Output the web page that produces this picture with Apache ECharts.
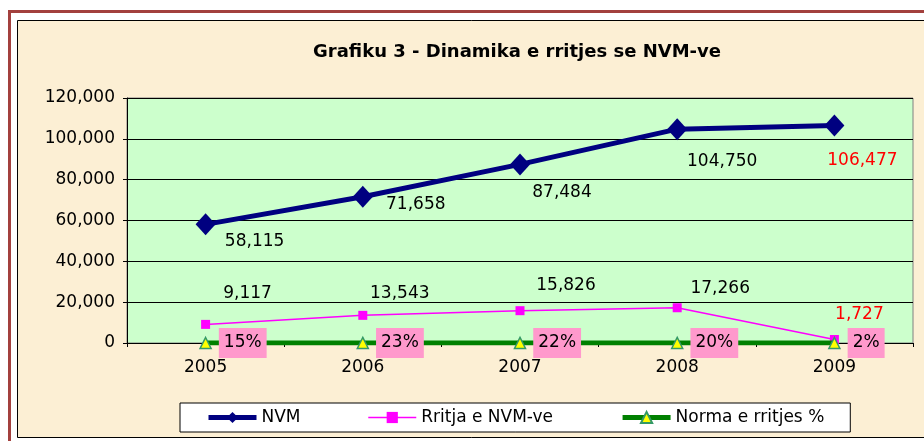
<!DOCTYPE html>
<html>
<head>
<meta charset="utf-8">
<script src="https://cdn.jsdelivr.net/npm/echarts@6/dist/echarts.min.js"></script>
<style>
    html, body { margin: 0; padding: 0; background: #fff; overflow: hidden; }
    #chart { width: 924px; height: 441px; }
</style>
</head>
<body>
<div id="chart"></div>
<script>
    // te dhenat
    const years = ['2005', '2006', '2007', '2008', '2009'];
    const nvm = [58115, 71658, 87484, 104750, 106477];
    const rritja = [9117, 13543, 15826, 17266, 1727];
    const norma = [15, 23, 22, 20, 2];

    // vendosja e etiketave (si ne Excel, me dore)
    const nvmOffsets = [[49, 17], [53, 8], [42, 28], [45, 32], [28, 35]];
    const rritjaOffsets = [[42, -31], [37, -22], [46, -25], [43, -19], [25, -25]];

    const font = 'DejaVu Sans, Verdana, sans-serif';
    const fmt = v => v.toLocaleString('en-US');

    const chart = echarts.init(document.getElementById('chart'), null, { renderer: 'canvas' });

    const option = {
        animation: false,
        backgroundColor: '#fff',
        textStyle: { fontFamily: font },
        // korniza e faqes
        graphic: [
            {
                type: 'rect', z: -10, silent: true,
                shape: { x: 17.5, y: 20.5, width: 930, height: 417 },
                style: { fill: '#fcefd4', stroke: '#000', lineWidth: 1 }
            },
            {
                type: 'line', z: -10, silent: true,
                shape: { x1: 9.5, y1: 441, x2: 9.5, y2: 10 },
                style: { stroke: '#a3403d', lineWidth: 3 }
            },
            {
                type: 'line', z: -10, silent: true,
                shape: { x1: 8, y1: 11.5, x2: 924, y2: 11.5 },
                style: { stroke: '#a3403d', lineWidth: 3 }
            }
        ],
        title: {
            text: 'Grafiku 3 - Dinamika e rritjes se NVM-ve',
            left: 512,
            top: 38,
            textAlign: 'center',
            textStyle: { fontFamily: font, fontSize: 18, fontWeight: 'bold', color: '#000' }
        },
        grid: {
            left: 127,
            top: 98,
            right: 11,
            bottom: 98,
            show: true,
            backgroundColor: '#ccffcc',
            borderColor: '#808080',
            borderWidth: 1
        },
        legend: {
            left: 180,
            top: 403,
            padding: [6, 26],
            itemGap: 67,
            itemWidth: 48,
            itemHeight: 14,
            backgroundColor: '#fff',
            borderColor: '#000',
            borderWidth: 1,
            borderRadius: 0,
            textStyle: { fontFamily: font, fontSize: 17, color: '#000' },
            data: [
                { name: 'NVM', lineStyle: { width: 5 } },
                { name: 'Rritja e NVM-ve', lineStyle: { width: 1.5 } },
                { name: 'Norma e rritjes %', lineStyle: { width: 5 } }
            ]
        },
        xAxis: {
            type: 'category',
            data: years,
            boundaryGap: true,
            axisLine: { lineStyle: { color: '#000', width: 1 } },
            axisTick: { show: true, length: 4, lineStyle: { color: '#000' } },
            axisLabel: { color: '#000', fontSize: 17, fontFamily: font, margin: 16 }
        },
        yAxis: {
            type: 'value',
            min: 0,
            max: 120000,
            interval: 20000,
            axisLine: { show: true, lineStyle: { color: '#000', width: 1 } },
            axisTick: { show: true, length: 4, lineStyle: { color: '#000' } },
            axisLabel: { color: '#000', fontSize: 17, fontFamily: font, margin: 12, formatter: fmt },
            splitLine: { lineStyle: { color: '#000', width: 1 } }
        },
        series: [
            {
                name: 'NVM',
                type: 'line',
                symbol: 'diamond',
                symbolSize: [20, 22],
                lineStyle: { color: '#000080', width: 5 },
                itemStyle: { color: '#000080' },
                z: 4,
                label: {
                    show: true,
                    position: 'inside',
                    fontSize: 17,
                    fontFamily: font,
                    formatter: p => fmt(p.value)
                },
                data: nvm.map((v, i) => ({
                    value: v,
                    label: { offset: nvmOffsets[i], color: i === nvm.length - 1 ? '#ff0000' : '#000' }
                }))
            },
            {
                name: 'Rritja e NVM-ve',
                type: 'line',
                symbol: 'rect',
                symbolSize: 9,
                lineStyle: { color: '#ff00ff', width: 1.5 },
                itemStyle: { color: '#ff00ff' },
                z: 3,
                label: {
                    show: true,
                    position: 'inside',
                    fontSize: 17,
                    fontFamily: font,
                    formatter: p => fmt(p.value)
                },
                data: rritja.map((v, i) => ({
                    value: v,
                    label: { offset: rritjaOffsets[i], color: i === rritja.length - 1 ? '#ff0000' : '#000' }
                }))
            },
            {
                name: 'Norma e rritjes %',
                type: 'line',
                symbol: 'triangle',
                symbolSize: 11,
                lineStyle: { color: '#008000', width: 5 },
                itemStyle: { color: '#ffff00', borderColor: '#339966', borderWidth: 1.5 },
                z: 5,
                label: {
                    show: true,
                    position: 'right',
                    distance: 7,
                    fontSize: 17,
                    fontFamily: font,
                    color: '#000',
                    backgroundColor: '#ff99cc',
                    padding: [7, 5, 6, 5],
                    formatter: p => p.value + '%'
                },
                data: norma
            }
        ]
    };

    chart.setOption(option);
</script>
</body>
</html>
